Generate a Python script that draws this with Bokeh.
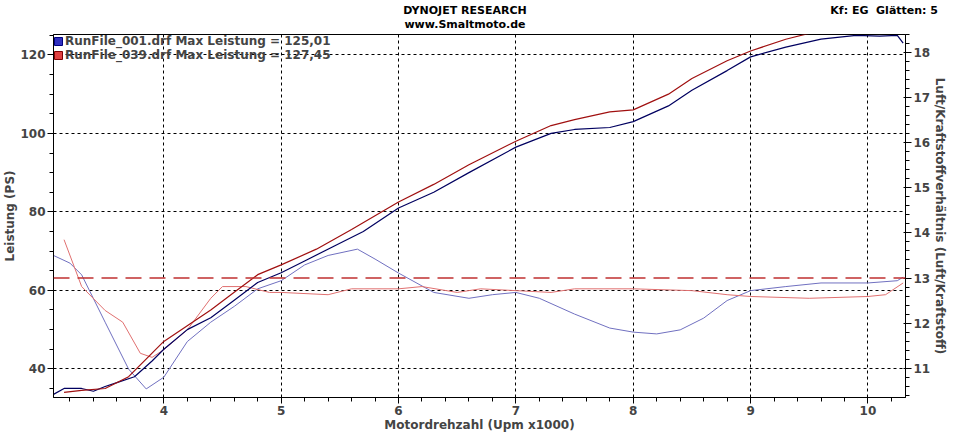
from bokeh.plotting import figure
from bokeh.models import Range1d, LinearAxis, Legend, LegendItem, Span, FixedTicker, Div
from bokeh.layouts import column
from bokeh.embed import file_html
from bokeh.resources import INLINE

rpm_p1 = [3.06,3.15,3.3,3.4,3.5,3.6,3.75,3.9,4.0,4.2,4.4,4.6,4.8,5.0,5.2,5.5,5.7,6.0,6.3,6.6,7.0,7.3,7.5,7.8,8.0,8.3,8.5,8.8,9.0,9.3,9.6,9.9,10.1,10.25,10.3]
ps_1 = [33.5,35,35,34.3,35.5,36.5,38,42,45,50,53,57.5,62,64.5,67.5,72,75,81,85,90,96.5,100,101,101.5,103,107,111,116,119.5,122,124,125,124.8,125,123]
rpm_p2 = [3.15,3.3,3.5,3.7,3.9,4.0,4.2,4.4,4.6,4.8,5.0,5.3,5.6,6.0,6.3,6.6,7.0,7.3,7.5,7.8,8.0,8.3,8.5,8.8,9.0,9.3,9.5,9.7]
ps_2 = [34,34.5,35,38,44,47,51,55,59.5,64,66.5,70.5,75.5,82.5,87,92,98,102,103.5,105.5,106,110,114,118.5,121,124,125.5,127]

rpm_a1 = [3.06,3.2,3.3,3.5,3.7,3.85,4.0,4.2,4.4,4.6,4.8,5.0,5.2,5.4,5.65,5.8,6.0,6.3,6.6,6.8,7.0,7.2,7.5,7.8,8.0,8.2,8.4,8.6,8.8,9.0,9.3,9.6,10.0,10.25,10.3]
afr_1 = [13.50,13.33,13.07,12.02,10.98,10.54,10.80,11.59,12.02,12.37,12.76,12.94,13.29,13.50,13.64,13.42,13.11,12.68,12.55,12.63,12.68,12.55,12.20,11.89,11.80,11.76,11.85,12.11,12.50,12.72,12.81,12.89,12.89,12.94,13.02]
rpm_a2 = [3.15,3.3,3.5,3.65,3.8,3.9,4.0,4.2,4.4,4.5,4.7,4.9,5.0,5.4,5.6,6.0,6.2,6.5,6.7,7.0,7.3,7.5,8.0,8.5,8.8,9.0,9.5,10.0,10.15,10.3]
afr_2 = [13.85,12.81,12.28,12.02,11.33,11.24,11.41,11.85,12.55,12.81,12.81,12.68,12.68,12.63,12.76,12.76,12.81,12.68,12.76,12.72,12.68,12.76,12.76,12.72,12.63,12.59,12.55,12.59,12.63,12.89]
afr_target = 13.0

legend_labels = ["RunFile_001.drf Max Leistung = 125,01", "RunFile_039.drf Max Leistung = 127,45"]

F = "DejaVu Sans"
W = 950
header = Div(width=W, height=34, styles={"margin": "0"}, text=(
    f'<div style="position:relative;width:{W}px;height:34px;font-family:DejaVu Sans;font-weight:bold;font-size:11px;">'
    f'<div style="position:absolute;left:0;width:{W-20}px;top:4px;text-align:center;line-height:14px;">DYNOJET RESEARCH<br>www.Smaltmoto.de</div>'
    '<div style="position:absolute;right:12px;top:4px;line-height:14px;">Kf: EG&nbsp; Glätten: 5</div></div>'))

p = figure(width=W, height=400, output_backend="svg", toolbar_location=None,
           x_range=Range1d(3.06, 10.32), y_range=Range1d(32.7, 125.2),
           min_border_left=0, min_border_right=0, min_border_top=0, min_border_bottom=0)
p.extra_y_ranges = {"afr": Range1d(10.35, 18.4)}
p.outline_line_color = "black"

for ax in [p.xaxis[0], p.yaxis[0]]:
    ax.major_label_text_font = F
    ax.major_label_text_font_style = "bold"
    ax.major_label_text_font_size = "9pt"
    ax.axis_label_text_font = F
    ax.axis_label_text_font_style = "bold"
    ax.axis_label_text_font_size = "9pt"
    ax.axis_label_standoff = 0
    ax.major_label_standoff = 2
p.xaxis.ticker = FixedTicker(ticks=[4,5,6,7,8,9,10], minor_ticks=[3.2+0.2*i for i in range(36)])
p.yaxis.ticker = FixedTicker(ticks=[40,60,80,100,120], minor_ticks=[35+5*i for i in range(19)])
p.xaxis.axis_label = "Motordrehzahl (Upm x1000)"
p.yaxis.axis_label = "Leistung (PS)"

ra = LinearAxis(y_range_name="afr", axis_label="Luft/Kraftstoffverhältnis (Luft/Kraftstoff)")
ra.ticker = FixedTicker(ticks=[11,12,13,14,15,16,17,18], minor_ticks=[10.4+0.2*i for i in range(41)])
ra.major_label_text_font = F; ra.major_label_text_font_style = "bold"; ra.major_label_text_font_size = "9pt"
ra.axis_label_text_font = F; ra.axis_label_text_font_style = "bold"; ra.axis_label_text_font_size = "9pt"
ra.axis_label_standoff = 0
ra.major_label_standoff = 2
p.add_layout(ra, "right")

for g in [p.xgrid[0], p.ygrid[0]]:
    g.grid_line_color = "black"
    g.grid_line_dash = "3 3"
p.xgrid.ticker = FixedTicker(ticks=[4,5,6,7,8,9,10])
p.ygrid.ticker = FixedTicker(ticks=[40,60,80,100,120])

p.add_layout(Span(location=afr_target, dimension="width", y_range_name="afr",
                  line_color="#c03030", line_dash="16 8", line_width=1.5))

p.line(rpm_a1, afr_1, y_range_name="afr", line_color="#7070c0", line_width=1)
p.line(rpm_a2, afr_2, y_range_name="afr", line_color="#e07070", line_width=1)
p.line(rpm_p1, ps_1, line_color="#000060", line_width=1.2)
p.line(rpm_p2, ps_2, line_color="#a01010", line_width=1.2)

s1 = p.quad(left=[0], right=[0.1], bottom=[0], top=[1], fill_color="#3030c0", line_color="#000080")
s2 = p.quad(left=[0], right=[0.1], bottom=[0], top=[1], fill_color="#e04040", line_color="#800000")
lg = Legend(items=[LegendItem(label=legend_labels[0], renderers=[s1]),
                   LegendItem(label=legend_labels[1], renderers=[s2])],
            location="top_left", background_fill_alpha=0, border_line_alpha=0,
            label_text_font=F, label_text_font_style="bold", label_text_font_size="9pt",
            spacing=0, padding=0, margin=0, glyph_width=10, glyph_height=10, label_height=11,
            label_standoff=2)
p.add_layout(lg)

open("out.html", "w").write(file_html(column(header, p, spacing=0), INLINE))
